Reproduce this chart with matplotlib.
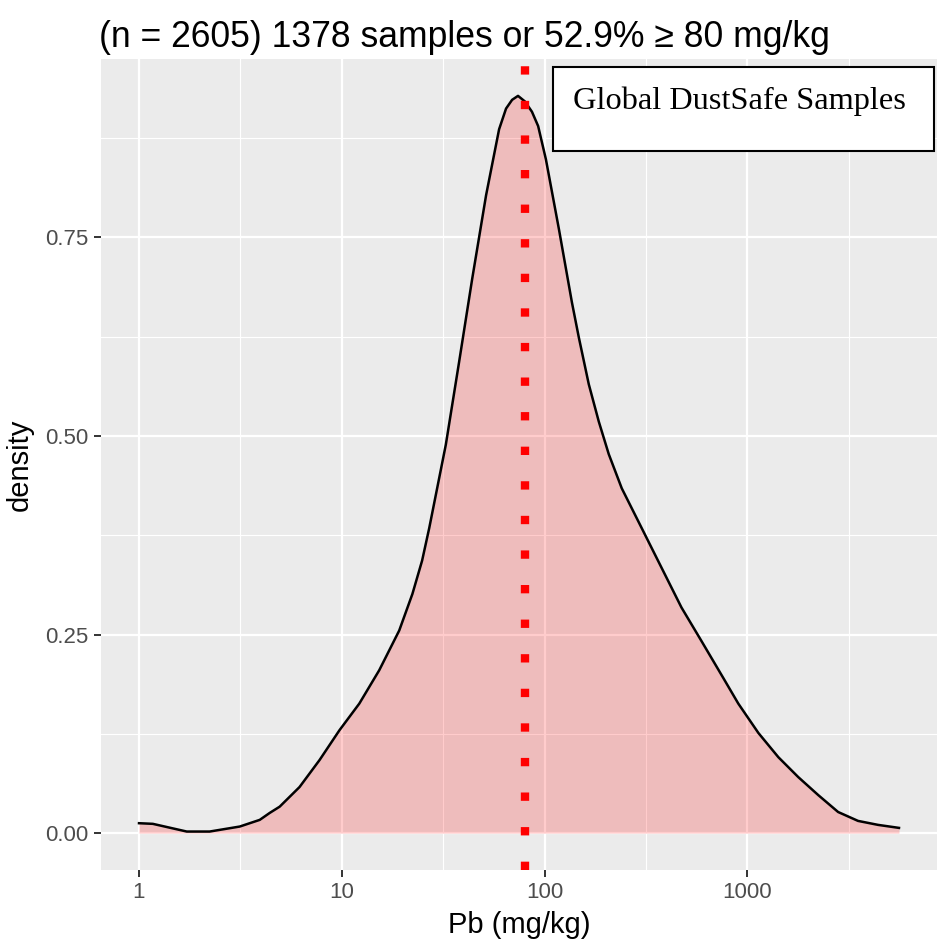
import numpy as np
import matplotlib.pyplot as plt
from matplotlib.patches import Rectangle
from matplotlib.ticker import FixedLocator, NullFormatter

# density curve (Pb in mg/kg, log x axis)
pb_values = [1.0, 1.17, 1.72, 2.23, 3.14, 3.94, 4.41, 4.94, 6.19, 7.77,
             9.74, 12.2, 15.3, 19.2, 22.3, 24.9, 27.0, 32.6, 37.9, 44.0,
             51.5, 59.7, 64.6, 69.2, 74.0, 80.0, 86.7, 93.0, 101.6, 117.8,
             136.5, 147.6, 165.3, 185.2, 207.4, 240.4, 301.4, 377.8, 473.6, 593.7,
             762.6, 903.2, 1135, 1423, 1783, 2236, 2805, 3517, 4412, 5600]
density = [0.0125, 0.0117, 0.002, 0.002, 0.0083, 0.0167, 0.0254, 0.0333, 0.058, 0.092,
           0.1295, 0.163, 0.205, 0.255, 0.301, 0.343, 0.384, 0.489, 0.593, 0.698,
           0.803, 0.886, 0.912, 0.923, 0.928, 0.921, 0.908, 0.890, 0.848, 0.760,
           0.668, 0.624, 0.565, 0.518, 0.477, 0.434, 0.384, 0.334, 0.284, 0.242,
           0.195, 0.163, 0.126, 0.0956, 0.0706, 0.048, 0.0266, 0.0154, 0.0104, 0.0066]

threshold = 80
title = "(n = 2605) 1378 samples or 52.9% \u2265 80 mg/kg"
box_label = "Global DustSafe Samples"

x_major = [1, 10, 100, 1000]
x_minor = [10 ** 0.5, 10 ** 1.5, 10 ** 2.5, 10 ** 3.5]
y_major = [0, 0.25, 0.5, 0.75]
y_minor = [0.125, 0.375, 0.625, 0.875]

plt.rcParams['font.family'] = ['Liberation Sans', 'DejaVu Sans']

fig = plt.figure(figsize=(9.4, 9.44), dpi=100)
ax = fig.add_axes([101 / 940, 74 / 944, 836 / 940, 811 / 944])
ax.set_facecolor('#EBEBEB')
for s in ax.spines.values():
    s.set_visible(False)

ax.set_xscale('log')
lo, hi = np.log10(pb_values[0]), np.log10(pb_values[-1])
pad = (hi - lo) * 0.05
ax.set_xlim(10 ** (lo - pad), 10 ** (hi + pad))
ymax = max(density)
ax.set_ylim(-ymax * 0.05, ymax * 1.05)

ax.xaxis.set_major_locator(FixedLocator(x_major))
ax.xaxis.set_minor_locator(FixedLocator(x_minor))
ax.xaxis.set_minor_formatter(NullFormatter())
ax.set_xticklabels([str(v) for v in x_major])
ax.yaxis.set_major_locator(FixedLocator(y_major))
ax.yaxis.set_minor_locator(FixedLocator(y_minor))
ax.set_yticklabels(['0.00', '0.25', '0.50', '0.75'])

ax.grid(which='major', color='white', lw=1.6)
ax.grid(which='minor', color='white', lw=0.8)
ax.set_axisbelow(True)
ax.tick_params(which='major', length=5, width=1.4, color='#333333',
               labelcolor='#4D4D4D', labelsize=16, pad=4)
ax.tick_params(which='minor', length=0)

ax.fill_between(pb_values, 0, density, color='red', alpha=0.2, lw=0, zorder=2)
ax.plot(pb_values, density, color='black', lw=1.8, zorder=3)
ax.axvline(threshold, color='red', lw=6, linestyle=(0, (1, 3.15)),
           dash_capstyle='butt', zorder=4)

ax.add_patch(Rectangle((0.5407, 0.8866), 0.4557, 0.1034, transform=ax.transAxes,
                       facecolor='white', edgecolor='black', lw=1.5, zorder=5))
ax.text(0.5646, 0.938, box_label, transform=ax.transAxes, fontsize=23.3,
        family='Liberation Serif', va='baseline', ha='left', zorder=6)

ax.set_xlabel('Pb (mg/kg)', fontsize=21)
ax.set_ylabel('density', fontsize=21)
ax.xaxis.set_label_coords(0.5, -0.05)
ax.yaxis.set_label_coords(-0.08, 0.5)

fig.text(99 / 940, (944 - 47) / 944, title, fontsize=25.6, ha='left', va='baseline')

fig.savefig('out.png', dpi=100)
